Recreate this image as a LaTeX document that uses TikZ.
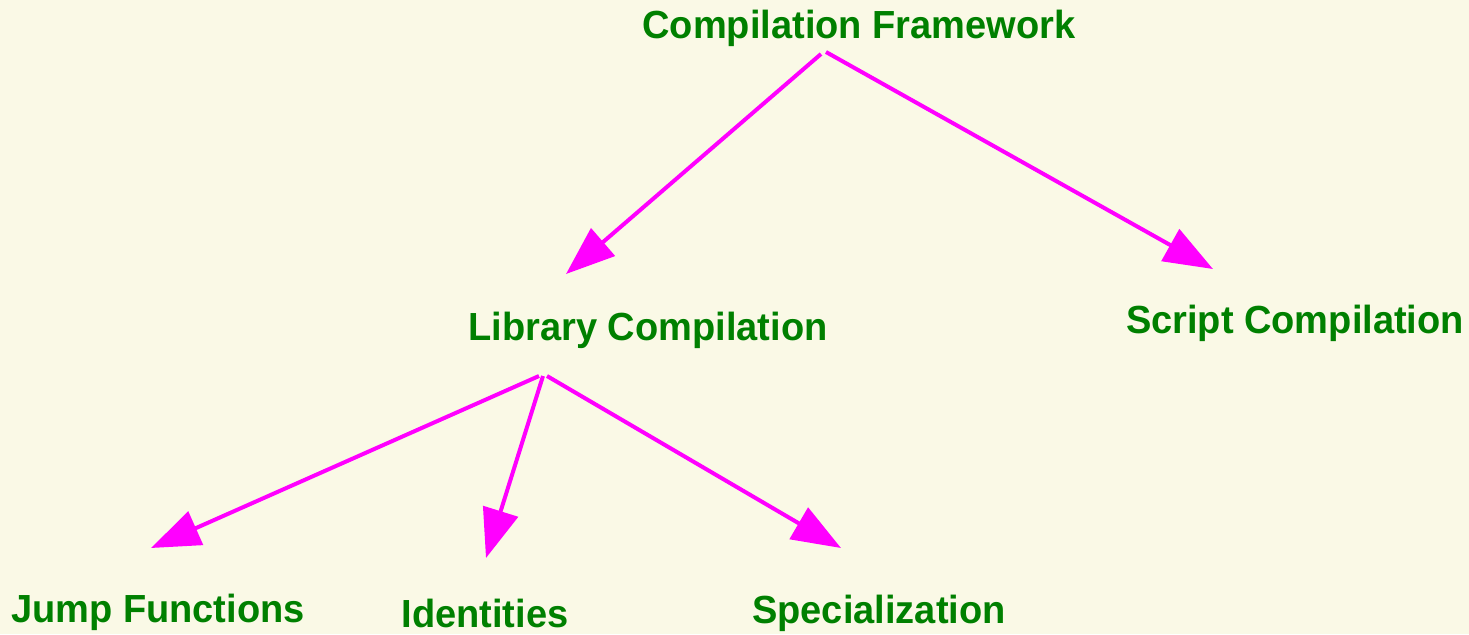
\documentclass[tikz,border=0pt]{standalone}
\usepackage{fontspec}
\setmainfont{Liberation Sans}
\usetikzlibrary{arrows.meta}
\definecolor{paper}{HTML}{FAF9E6}
\definecolor{labelgreen}{HTML}{008000}
\definecolor{linkpink}{HTML}{FF00FF}
\tikzset{
  topic/.style={text=labelgreen, font=\fontsize{19.6}{22}\selectfont\bfseries, inner sep=0pt, anchor=center, xscale=0.97},
  link/.style={draw=linkpink, line width=2pt, -{Triangle[length=24.5pt,width=18pt]}},
}
\begin{document}
\begin{tikzpicture}[x=0.5pt, y=-0.5pt]
  \fill[paper] (0,0) rectangle (1469,634);
  \useasboundingbox (0,0) rectangle (1469,634);

  % labels
  \node[topic] (cf) at (859,28) {Compilation Framework};
  \node[topic] (lc) at (648,330) {Library Compilation};
  \node[topic] (sc) at (1295,323) {Script Compilation};
  \node[topic] (jf) at (158,612) {Jump Functions};
  \node[topic] (id) at (485,613) {Identities};
  \node[topic] (sp) at (879,613) {Specialization};

  % ports where the links leave and arrive
  \coordinate (cf-l) at (821,54);
  \coordinate (cf-r) at (826,52);
  \coordinate (lc-a) at (539,376);
  \coordinate (lc-b) at (543,376);
  \coordinate (lc-c) at (547,376);
  \coordinate (lc-in) at (566,274);
  \coordinate (sc-in) at (1213,269);
  \coordinate (jf-in) at (151,548);
  \coordinate (id-in) at (486,558);
  \coordinate (sp-in) at (841,548);

  % links
  \draw[link] (cf-l) -- (lc-in);
  \draw[link] (cf-r) -- (sc-in);
  \draw[link] (lc-a) -- (jf-in);
  \draw[link] (lc-b) -- (id-in);
  \draw[link] (lc-c) -- (sp-in);
\end{tikzpicture}
\end{document}
